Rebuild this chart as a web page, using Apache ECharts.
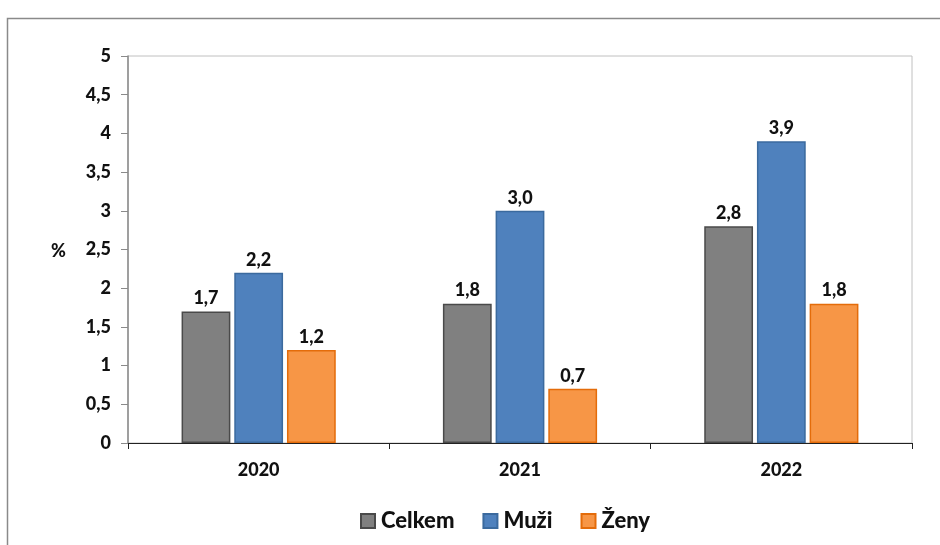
<!DOCTYPE html>
<html><head><meta charset="utf-8">
<script src="https://cdn.jsdelivr.net/npm/echarts@6/dist/echarts.min.js"></script>
<style>html,body{margin:0;padding:0;background:#fff}#c{width:940px;height:545px}</style>
</head><body><div id="c"></div>
<script>
const categories = ['2020', '2021', '2022'];
const celkem = [1.7, 1.8, 2.8];
const muzi = [2.2, 3.0, 3.9];
const zeny = [1.2, 0.7, 1.8];
const yTicks = [0, 0.5, 1, 1.5, 2, 2.5, 3, 3.5, 4, 4.5, 5];

const FONT = 'Lato';
const W = 900;
const fmt = v => String(v).replace('.', ',');
const label = {
  show: true, position: 'top', distance: 4,
  fontFamily: FONT, fontWeight: W, fontSize: 18, color: '#111',
  formatter: p => p.value.toFixed(1).replace('.', ',')
};
function mk(name, data, color, border) {
  return {
    name, type: 'bar', data,
    barGap: '8%', barCategoryGap: '41%',
    itemStyle: { color, borderColor: border, borderWidth: 1.5 },
    label
  };
}
const chart = echarts.init(document.getElementById('c'));
chart.setOption({
  animation: false,
  grid: { left: 128, right: 28, top: 56, bottom: 102, show: true, borderColor: '#c0c0c0', borderWidth: 1 },
  graphic: [
    { type: 'rect', shape: { x: 7.5, y: 18.5, width: 1000, height: 600 }, style: { fill: 'none', stroke: '#8a8a8a', lineWidth: 1.5 }, silent: true },
    { type: 'text', left: 51, top: 242, style: { text: '%', font: '900 18px Lato', fill: '#111' } }
  ],
  legend: {
    bottom: 8, left: 355, icon: 'rect', itemWidth: 14, itemHeight: 14, itemGap: 28,
    textStyle: { fontFamily: FONT, fontWeight: W, fontSize: 22, color: '#111', padding: [0, 0, 0, 1] },
    data: ['Celkem', 'Muži', 'Ženy']
  },
  xAxis: {
    type: 'category', data: categories,
    axisLine: { lineStyle: { color: '#222', width: 1 } },
    axisTick: { show: true, length: 6, lineStyle: { color: '#222' } },
    axisLabel: { fontFamily: FONT, fontWeight: W, fontSize: 18, color: '#111', margin: 18 }
  },
  yAxis: {
    type: 'value', min: 0, max: 5, interval: 0.5,
    splitLine: { show: false },
    axisLine: { show: true, lineStyle: { color: '#8a8a8a', width: 1.5 } },
    axisTick: { show: true, length: 7, lineStyle: { color: '#8a8a8a' } },
    axisLabel: { fontFamily: FONT, fontWeight: W, fontSize: 18, color: '#111', margin: 17,
      formatter: v => yTicks.includes(v) ? fmt(v) : '' }
  },
  series: [
    mk('Celkem', celkem, '#808080', '#4a4a4a'),
    mk('Muži', muzi, '#4f81bd', '#3b6a9e'),
    mk('Ženy', zeny, '#f79646', '#e46c0a')
  ]
});
</script></body></html>
